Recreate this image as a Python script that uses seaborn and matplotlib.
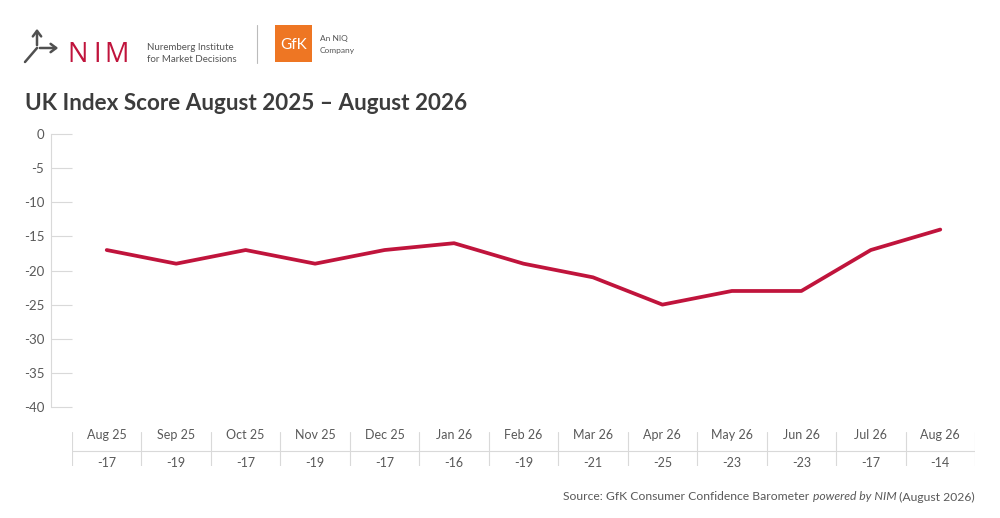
import matplotlib
matplotlib.use("Agg")
import matplotlib.pyplot as plt
from matplotlib.lines import Line2D
from matplotlib.patches import Rectangle, FancyArrowPatch
import numpy as np
import pandas as pd
import seaborn as sns

months = ["Aug 25", "Sep 25", "Oct 25", "Nov 25", "Dec 25", "Jan 26", "Feb 26",
          "Mar 26", "Apr 26", "May 26", "Jun 26", "Jul 26", "Aug 26"]
scores = [-17, -19, -17, -19, -17, -16, -19, -21, -25, -23, -23, -17, -14]
y_ticks = [0, -5, -10, -15, -20, -25, -30, -35, -40]

title = "UK Index Score August 2025 \u2013 August 2026"
source_parts = ["Source: GfK Consumer Confidence Barometer ", "powered by NIM", " (August 2026)"]

RED = "#C0143C"
GREY_TXT = "#595959"
GRID = "#D9D9D9"

sns.set_theme(style="white")
plt.rcParams["font.family"] = ["Lato", "DejaVu Sans"]

df = pd.DataFrame({"pos": np.arange(len(months)), "month": months, "score": scores})

W, H = 1000, 518
fig = plt.figure(figsize=(10, 5.18), dpi=100)


def fx(px):
    return px / W


def fy(py):
    return 1 - py / H


# main chart
ax = fig.add_axes([fx(72), fy(407), fx(975 - 72), (407 - 134) / H])
sns.lineplot(data=df, x="pos", y="score", color=RED, linewidth=2.7, ax=ax,
             solid_capstyle="round", solid_joinstyle="round")
ax.set_xlim(-0.5, len(months) - 0.5)
ax.set_ylim(min(y_ticks), max(y_ticks))
ax.set_yticks(y_ticks)
ax.set_yticklabels([str(v) for v in y_ticks])
ax.set_xticks([])
ax.set_xlabel("")
ax.set_ylabel("")
for s in ["top", "right", "bottom"]:
    ax.spines[s].set_visible(False)
ax.spines["left"].set_position(("outward", 15))
ax.spines["left"].set_color(GRID)
ax.spines["left"].set_linewidth(0.8)
ax.tick_params(axis="y", direction="in", length=15, width=0.8, color=GRID,
               labelsize=9.5, labelcolor=GREY_TXT, pad=5, left=True)
ax.set_facecolor("none")

# data table below chart
tab = fig.add_axes([fx(72), fy(466), fx(975 - 72), (466 - 432) / H])
tab.set_xlim(ax.get_xlim())
tab.set_ylim(0, 2)
tab.axis("off")
tab.axhline(0.9, color=GRID, linewidth=0.8)
for i in range(len(months) + 1):
    tab.axvline(i - 0.5, color=GRID, linewidth=0.8)
for i, (m, v) in enumerate(zip(months, scores)):
    tab.text(i, 1.8, m, ha="center", va="center", fontsize=9, color=GREY_TXT)
    tab.text(i, 0.2, str(v), ha="center", va="center", fontsize=9, color=GREY_TXT)

# title
fig.text(fx(25), fy(104), title, ha="left", va="center", fontsize=16.2,
         fontweight="bold", color="#3C3C3C")

# logo: arrow icon
icon_col = "#505050"
fig.add_artist(FancyArrowPatch((fx(37), fy(48)), (fx(37), fy(26)), transform=fig.transFigure,
                               arrowstyle="->,head_length=4,head_width=3", color=icon_col, lw=1.8))
fig.add_artist(FancyArrowPatch((fx(37), fy(48)), (fx(61), fy(48)), transform=fig.transFigure,
                               arrowstyle="->,head_length=4,head_width=3", color=icon_col, lw=1.8))
fig.add_artist(Line2D([fx(25), fx(37)], [fy(62), fy(48)], transform=fig.transFigure,
                      color=icon_col, lw=1.8))
for letter, lx in zip("NIM", [67, 93, 104]):
    fig.text(fx(lx), fy(62), letter, ha="left", va="baseline", fontsize=19.5, color=RED,
             family="Open Sans")
fig.text(fx(147), fy(47), "Nuremberg Institute", ha="left", va="center", fontsize=7, color="#555555")
fig.text(fx(147), fy(59), "for Market Decisions", ha="left", va="center", fontsize=7, color="#555555")
fig.add_artist(Line2D([fx(257), fx(257)], [fy(25), fy(63)], transform=fig.transFigure,
                      color="#BBBBBB", lw=0.8))
fig.add_artist(Rectangle((fx(275), fy(62)), fx(37), 37 / H, transform=fig.transFigure,
                         facecolor="#EE7623", edgecolor="none"))
fig.text(fx(293.5), fy(45), "GfK", ha="center", va="center", fontsize=11, color="white")
fig.text(fx(320), fy(39), "An NIQ", ha="left", va="center", fontsize=6, color="#555555")
fig.text(fx(320), fy(50), "Company", ha="left", va="center", fontsize=6, color="#555555")

# source line with italic middle part, right aligned at x=975
fig.canvas.draw()
renderer = fig.canvas.get_renderer()
x_right = fx(975)
styles = ["normal", "italic", "normal"]
for part, st in reversed(list(zip(source_parts, styles))):
    t = fig.text(x_right, fy(497), part, ha="right", va="center", fontsize=8.7,
                 color=GREY_TXT, style=st)
    bb = t.get_window_extent(renderer=renderer)
    x_right = bb.x0 / W

fig.savefig("out.png", dpi=100)
